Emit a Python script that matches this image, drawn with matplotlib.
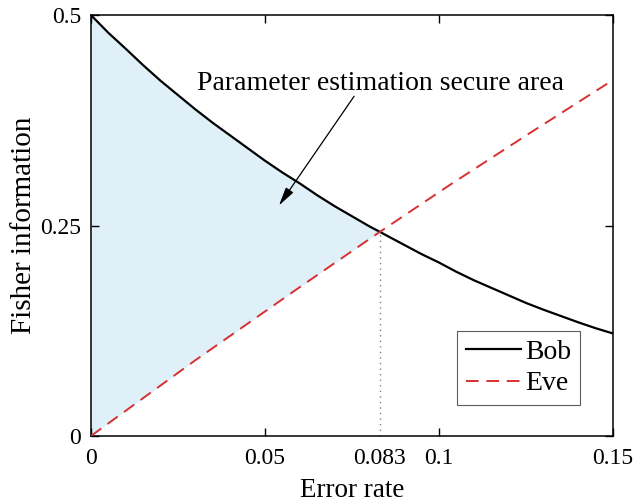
import numpy as np
import matplotlib.pyplot as plt

plt.rcParams['font.family'] = ['Liberation Serif', 'DejaVu Serif']

# Values
bob_x = [0, 0.005, 0.01, 0.015, 0.02, 0.025, 0.03, 0.035, 0.04, 0.045, 0.05,
         0.055, 0.06, 0.065, 0.07, 0.075, 0.08, 0.083, 0.085, 0.09, 0.095, 0.1,
         0.105, 0.11, 0.115, 0.12, 0.125, 0.13, 0.135, 0.14, 0.145, 0.15]
bob_y = [0.500, 0.479, 0.460, 0.4405, 0.422, 0.405, 0.388, 0.372, 0.357, 0.342, 0.327,
         0.313, 0.300, 0.286, 0.273, 0.261, 0.249, 0.2425, 0.238, 0.227, 0.216, 0.206,
         0.195, 0.185, 0.176, 0.167, 0.158, 0.150, 0.1425, 0.135, 0.128, 0.1217]
eve_x = [0, 0.03, 0.059, 0.083, 0.103, 0.125, 0.15]
eve_y = [0, 0.090, 0.174, 0.2425, 0.298, 0.357, 0.423]

cross_x = 0.083
cross_y = 0.2425
x_ticks = [0, 0.05, 0.083, 0.1, 0.15]
x_labels = ['0', '0.05', '0.083', '0.1', '0.15']
y_ticks = [0, 0.25, 0.5]
y_labels = ['0', '0.25', '0.5']
note = 'Parameter estimation secure area'
note_pos = (0.0833, 0.419)
arrow_tail = (0.0756, 0.4036)
arrow_head = (0.0540, 0.2738)

fig = plt.figure(figsize=(6.36, 5.04), dpi=100)
ax = fig.add_axes([0.143, 0.135, 0.821, 0.835])

# shaded region between Eve and Bob up to the crossing
xs = np.linspace(0, cross_x, 200)
upper = np.interp(xs, bob_x, bob_y)
lower = np.interp(xs, eve_x, eve_y)
ax.fill_between(xs, lower, upper, color='#dff0f9', linewidth=0, zorder=1)

ax.plot(bob_x, bob_y, color='black', lw=1.6, label='Bob', zorder=3)
ax.plot(eve_x, eve_y, color='#d83030', lw=1.4, ls=(0, (6.5, 4)), label='Eve', zorder=3)
ax.plot([cross_x, cross_x], [0, cross_y], color='gray', lw=1.0, ls=(0, (1, 3)), zorder=2)

ax.text(*note_pos, note, ha='center', va='center', fontsize=20)
ax.annotate('', xy=arrow_head, xytext=arrow_tail,
            arrowprops=dict(arrowstyle='-|>,head_length=0.75,head_width=0.18',
                            color='black', lw=0.9, mutation_scale=15,
                            shrinkA=0, shrinkB=0), zorder=4)

ax.set_xlim(0, 0.15)
ax.set_ylim(0, 0.5)
ax.set_xticks(x_ticks)
ax.set_xticklabels(x_labels)
ax.set_yticks(y_ticks)
ax.set_yticklabels(y_labels)
ax.tick_params(direction='in', length=6, width=1.0, labelsize=17,
               top=True, right=True, pad=7)
ax.tick_params(axis='x', pad=9)
ax.xaxis.get_major_ticks()[2].tick1line.set_visible(False)
ax.xaxis.get_major_ticks()[2].tick2line.set_visible(False)
for s in ax.spines.values():
    s.set_linewidth(1.1)

ax.set_xlabel('Error rate', fontsize=19.5, labelpad=6)
ax.set_ylabel('Fisher information', fontsize=21, labelpad=2)

leg = ax.legend(loc='lower right', bbox_to_anchor=(0.936, 0.074), fontsize=20,
                frameon=True, fancybox=False, edgecolor='#333333',
                handlelength=2.0, borderpad=0.3, labelspacing=0.22,
                handletextpad=0.15, borderaxespad=0)
leg.get_frame().set_linewidth(0.8)

fig.savefig('out.png', dpi=100)
